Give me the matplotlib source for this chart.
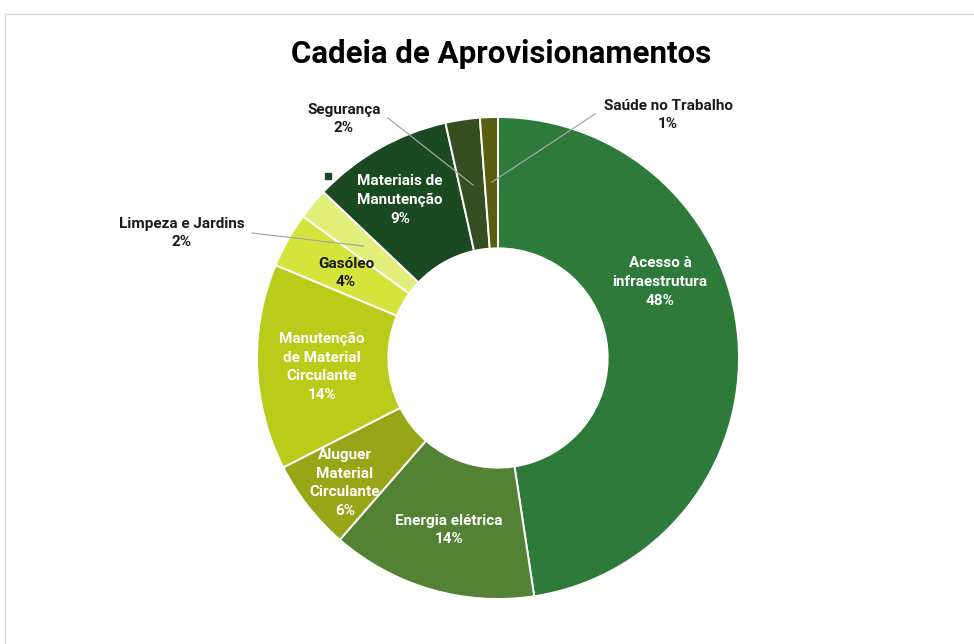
import matplotlib.pyplot as plt
from matplotlib.patches import Rectangle

# chart data
categories = [
    "Acesso à\ninfraestrutura",
    "Energia elétrica",
    "Aluguer\nMaterial\nCirculante",
    "Manutenção\nde Material\nCirculante",
    "Gasóleo",
    "Limpeza e Jardins",
    "Materiais de\nManutenção",
    "Segurança",
    "Saúde no Trabalho",
]
values = [47.6, 13.8, 6.1, 13.8, 3.7, 2.1, 9.4, 2.3, 1.2]
colors = ["#2E7A3A", "#548235", "#97A617", "#BACB1A", "#D4E43A",
          "#E2EE7A", "#1B4A22", "#344E22", "#5A5E10"]
label_colors = ["white", "white", "white", "white", "#1a1a1a",
                "#1a1a1a", "white", "#1a1a1a", "#1a1a1a"]

W, H = 974, 644


def py(y):
    # pixel row (top = 0) to data y
    return H - y


fig = plt.figure(figsize=(W / 100, H / 100), dpi=100)
ax = fig.add_axes([0, 0, 1, 1])

cx, cy, R = 498, py(358), 241
ax.pie(values, colors=colors, startangle=90, counterclock=False,
       radius=R, center=(cx, cy),
       wedgeprops=dict(width=R * 0.545, edgecolor="white", linewidth=1.4))
ax.set_xlim(0, W)
ax.set_ylim(0, H)
ax.set_aspect("equal")
ax.axis("off")

# chart area border
ax.add_patch(Rectangle((5, -10), W + 20, py(14) + 10, fill=False,
                       edgecolor="#D9D9D9", linewidth=1.0))

font = dict(family="Roboto", fontweight="bold", fontsize=11,
            ha="center", va="center", linespacing=1.42)

# label placements (x, y in pixels)
label_pos = [(660, 282), (449, 530), (345, 483), (322, 367), (346, 273),
             (182, 233), (400, 200), (344, 119), (668, 115)]
total = sum(values)
for cat, val, (lx, ly), tc in zip(categories, values, label_pos, label_colors):
    pct = round(val / total * 100)
    ax.text(lx, py(ly), f"{cat}\n{pct}%", color=tc, **font)

# leader lines for the small slices
leaders = [((252, 233), (363, 246)),
           ((388, 118), (473, 185)),
           ((595, 114), (492, 182))]
for (x0, y0), (x1, y1) in leaders:
    ax.plot([x0, x1], [py(y0), py(y1)], color="#A6A6A6", linewidth=0.9)

# stray legend key next to "Materiais de Manutenção"
ax.add_patch(Rectangle((325, py(179)), 6, 6, color=colors[6]))

ax.text(W / 2 + 14, py(54), "Cadeia de Aprovisionamentos", family="Roboto",
        fontweight="bold", fontsize=22.5, ha="center", va="center",
        color="black")

fig.savefig("out.png", dpi=100, facecolor="white")
